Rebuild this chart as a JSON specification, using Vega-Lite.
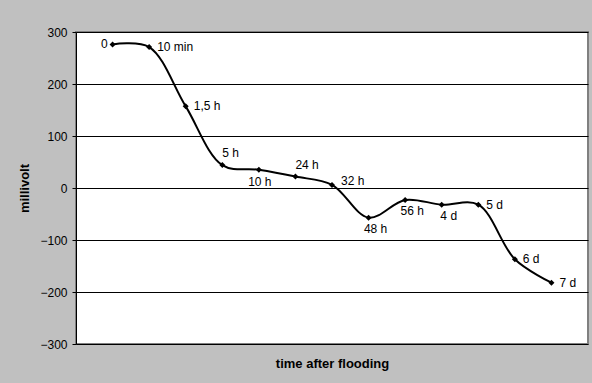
{
 "$schema": "https://vega.github.io/schema/vega-lite/v6.json",
 "width": 512, "height": 312,
 "autosize": {"type": "none"},
 "padding": {"left": 76, "top": 32, "right": 4, "bottom": 39},
 "background": "#c0c0c0",
 "config": {"font": "Liberation Sans", "view": {"fill": "white", "stroke": "#808080", "strokeWidth": 2}},
 "data": {"values": [
  {"time": "0", "mV": 276},
  {"time": "10 min", "mV": 271},
  {"time": "1,5 h", "mV": 157},
  {"time": "5 h", "mV": 44},
  {"time": "10 h", "mV": 35},
  {"time": "24 h", "mV": 22},
  {"time": "32 h", "mV": 6},
  {"time": "48 h", "mV": -57},
  {"time": "56 h", "mV": -23},
  {"time": "4 d", "mV": -32},
  {"time": "5 d", "mV": -32},
  {"time": "6 d", "mV": -137},
  {"time": "7 d", "mV": -182}
 ]},
 "encoding": {
  "x": {"field": "time", "type": "nominal", "sort": null, "scale": {"type": "point", "padding": 1},
   "axis": {"title": "time after flooding", "labels": false, "ticks": false, "domain": false, "grid": false, "titleFontSize": 13, "titleFontWeight": "bold", "titlePadding": 13, "titleColor": "black"}},
  "y": {"field": "mV", "type": "quantitative", "scale": {"domain": [-300, 300], "nice": false},
   "axis": {"values": [-300, -200, -100, 0, 100, 200, 300], "title": "millivolt", "grid": true, "gridColor": "black", "gridOpacity": 1, "gridWidth": 1, "domainColor": "black", "tickColor": "black", "tickSize": 4, "labelPadding": 5, "labelFontSize": 12, "labelColor": "black", "titleFontSize": 13, "titleFontWeight": "bold", "titleColor": "black", "titlePadding": 8}}
 },
 "layer": [
  {"mark": {"type": "line", "interpolate": "catmull-rom", "color": "black", "strokeWidth": 2}},
  {"mark": {"type": "point", "shape": "diamond", "filled": true, "color": "black", "size": 36, "opacity": 1}},
  {"transform": [{"filter": {"field": "time", "oneOf": ["0"]}}],
   "mark": {"type": "text", "align": "right", "baseline": "middle", "dx": -5, "fontSize": 12, "color": "black"},
   "encoding": {"text": {"field": "time"}}},
  {"transform": [{"filter": {"field": "time", "oneOf": ["10 min", "1,5 h", "5 d", "6 d", "7 d"]}}],
   "mark": {"type": "text", "align": "left", "baseline": "middle", "dx": 8, "fontSize": 12, "color": "black"},
   "encoding": {"text": {"field": "time"}}},
  {"transform": [{"filter": {"field": "time", "oneOf": ["32 h"]}}],
   "mark": {"type": "text", "align": "left", "baseline": "middle", "dx": 9, "dy": -4, "fontSize": 12, "color": "black"},
   "encoding": {"text": {"field": "time"}}},
  {"transform": [{"filter": {"field": "time", "oneOf": ["5 h", "24 h"]}}],
   "mark": {"type": "text", "align": "left", "baseline": "middle", "dx": 0, "dy": -12, "fontSize": 12, "color": "black"},
   "encoding": {"text": {"field": "time"}}},
  {"transform": [{"filter": {"field": "time", "oneOf": ["10 h"]}}],
   "mark": {"type": "text", "align": "center", "baseline": "middle", "dx": 1, "dy": 12, "fontSize": 12, "color": "black"},
   "encoding": {"text": {"field": "time"}}},
  {"transform": [{"filter": {"field": "time", "oneOf": ["48 h", "56 h", "4 d"]}}],
   "mark": {"type": "text", "align": "center", "baseline": "middle", "dx": 7, "dy": 11, "fontSize": 12, "color": "black"},
   "encoding": {"text": {"field": "time"}}}
 ]
}
